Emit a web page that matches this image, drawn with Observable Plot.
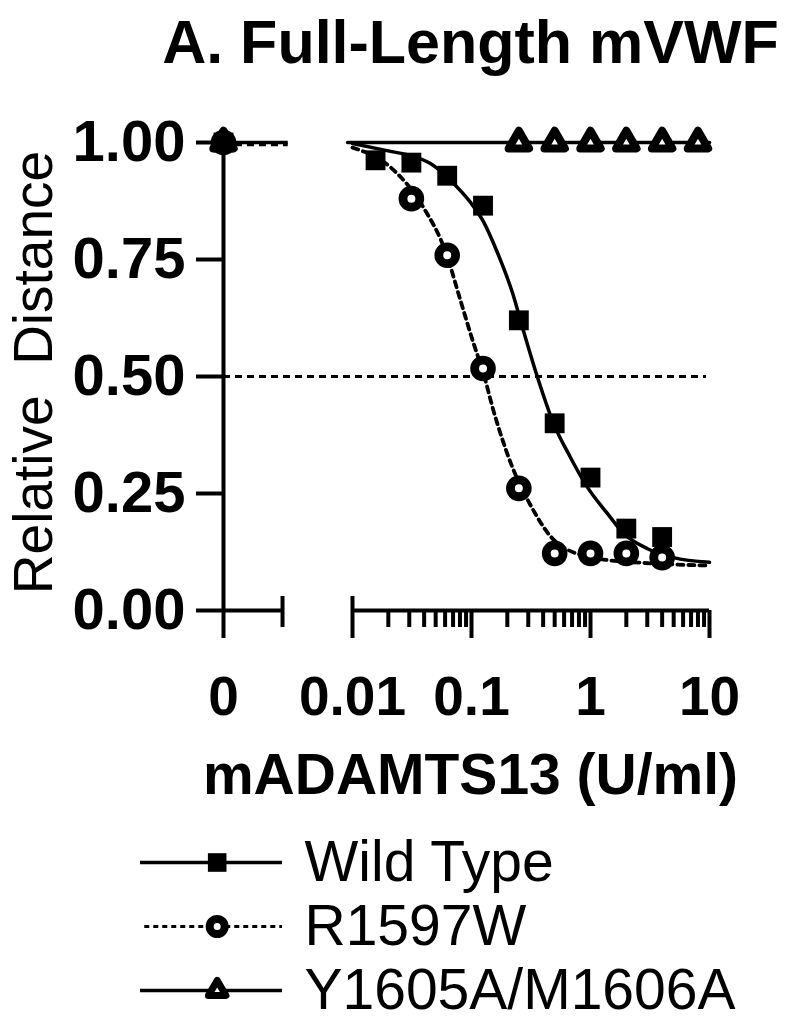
<!DOCTYPE html>
<html>
<head>
<meta charset="utf-8">
<script src="https://cdn.jsdelivr.net/npm/d3@7"></script>
<script src="https://cdn.jsdelivr.net/npm/@observablehq/plot@0.6"></script>
<style>
  html, body { margin: 0; padding: 0; background: #fff; }
  #chart svg { display: block; }
</style>
</head>
<body>
<div id="chart"></div>
<script>
// ---------- data ----------
const titleText = "A. Full-Length mVWF";
const xTitle = "mADAMTS13 (U/ml)";
const yTitle = "Relative  Distance";

const seriesNames = ["Wild Type", "R1597W", "Y1605A/M1606A"];

// measured points (concentration in U/ml, relative distance)
const wtConc = [0, 0.015625, 0.03125, 0.0625, 0.125, 0.25, 0.5, 1, 2, 4];
const wtValues = [1.0, 0.962, 0.957, 0.929, 0.865, 0.620, 0.400, 0.284, 0.175, 0.157];

const rwConc = [0, 0.03125, 0.0625, 0.125, 0.25, 0.5, 1, 2, 4];
const rwValues = [1.0, 0.880, 0.759, 0.517, 0.261, 0.122, 0.122, 0.122, 0.113];

const ymConc = [0, 0.25, 0.5, 1, 2, 4, 8];
const ymValues = [1.0, 1.0, 1.0, 1.0, 1.0, 1.0, 1.0];

// fitted curves
const wtFitConc = [0.01, 0.0209, 0.0307, 0.0452, 0.0666, 0.0981, 0.126, 0.165, 0.221, 0.273, 0.359, 0.489, 0.679, 0.944, 1.39, 1.89, 3.01, 4.98, 10];
const wtFitValues = [0.998, 0.981, 0.972, 0.955, 0.919, 0.872, 0.831, 0.765, 0.679, 0.598, 0.498, 0.400, 0.327, 0.263, 0.207, 0.165, 0.132, 0.113, 0.103];

const rwFitConc = [0.01, 0.0209, 0.0395, 0.0605, 0.0809, 0.104, 0.124, 0.153, 0.213, 0.312, 0.527, 1.14, 3.66, 10];
const rwFitValues = [0.989, 0.947, 0.861, 0.767, 0.662, 0.571, 0.513, 0.427, 0.316, 0.226, 0.144, 0.111, 0.100, 0.096];

const ymFitConc = [0.0091, 10];
const ymFitValues = [1.0, 1.0];

// value of the fits on the "0" segment
const zeroFitValue = 1.0;
// 50% reference line
const halfLine = 0.5;

// axis ticks
const xTickValues = [0, 0.01, 0.1, 1, 10];
const xTickLabels = ["0", "0.01", "0.1", "1", "10"];
const minorMultipliers = [2, 3, 4, 5, 6, 7, 8, 9];
const minorDecades = [0.01, 0.1, 1];
const yTickValues = [0, 0.25, 0.5, 0.75, 1];

// ---------- layout constants (broken log axis) ----------
const ZERO_U = -3.084;        // position of "0" on the log10 axis
const ZERO_SEG_END = -2.588;  // end of the "0" segment
const ZERO_FIT_END = -2.54;
const LOG_START = -2, LOG_END = 1;
const HALF_END = 0.975;
const toU = c => c === 0 ? ZERO_U : Math.log10(c);

const zip = (cs, vs) => cs.map((c, i) => ({c, v: vs[i]}));
const wt = zip(wtConc, wtValues);
const rw = zip(rwConc, rwValues);
const ym = zip(ymConc, ymValues);
const wtFit = zip(wtFitConc, wtFitValues);
const rwFit = zip(rwFitConc, rwFitValues);
const ymFit = zip(ymFitConc, ymFitValues);

const majorU = xTickValues.map(toU);
const labelByU = new Map(majorU.map((u, i) => [u, xTickLabels[i]]));
const minorU = minorDecades.flatMap(d => minorMultipliers.map(m => Math.log10(m * d))).concat([ZERO_SEG_END]);

const FONT = "'Liberation Sans', Arial, Helvetica, sans-serif";

const main = Plot.plot({
  width: 786,
  height: 830,
  marginTop: 142,
  marginBottom: 220,
  marginLeft: 223,
  marginRight: 77,
  style: {fontFamily: FONT, background: "white", color: "black", overflow: "visible"},
  x: {domain: [ZERO_U, LOG_END], axis: null},
  y: {domain: [0, 1], axis: null},
  marks: [
    // x axis line segments
    Plot.ruleY([{x1: ZERO_U, x2: ZERO_SEG_END}, {x1: LOG_START, x2: LOG_END}], {y: () => 0, x1: "x1", x2: "x2", stroke: "black", strokeWidth: 4}),
    // y axis line
    Plot.ruleX([ZERO_U], {y1: 0, y2: 1, stroke: "black", strokeWidth: 4}),
    // segment end caps
    Plot.ruleX([ZERO_SEG_END, LOG_START], {y1: 0, y2: 0.03, stroke: "black", strokeWidth: 4}),
    Plot.axisX({ticks: majorU, tickFormat: d => labelByU.get(d), tickSize: 28, tickPadding: 37,
      fontSize: 55, fontWeight: "bold", strokeWidth: 4, label: null}),
    Plot.axisX({ticks: minorU, tickFormat: () => "", tickSize: 17, strokeWidth: 4, label: null}),
    Plot.axisY({ticks: yTickValues, tickFormat: d3.format(".2f"), tickSize: 27, tickPadding: 11,
      fontSize: 58, fontWeight: "bold", strokeWidth: 4, label: null}),
    // 50% line
    Plot.ruleY([halfLine], {x1: ZERO_U, x2: HALF_END, stroke: "black", strokeWidth: 3, strokeDasharray: "7,5"}),
    // fits on the zero segment
    Plot.ruleY([zeroFitValue], {x1: ZERO_U, x2: ZERO_FIT_END, stroke: "black", strokeWidth: 3.5}),
    Plot.ruleY([zeroFitValue], {x1: ZERO_U, x2: ZERO_FIT_END, dy: 2, stroke: "black", strokeWidth: 3.5, strokeDasharray: "7,5"}),
    // fitted curves
    Plot.line(ymFit, {x: d => toU(d.c), y: "v", stroke: "black", strokeWidth: 3.5}),
    Plot.line(rwFit, {x: d => toU(d.c), y: "v", curve: "monotone-x", stroke: "black", strokeWidth: 3.8, strokeDasharray: "6,5"}),
    Plot.line(wtFit, {x: d => toU(d.c), y: "v", curve: "monotone-x", stroke: "black", strokeWidth: 3.5}),
    // points
    Plot.dot(rw, {x: d => toU(d.c), y: "v", r: 8.4, fill: "white", stroke: "black", strokeWidth: 8.8}),
    Plot.dot(ym, {x: d => toU(d.c), y: "v", symbol: "triangle", r: 7.6, fill: "white", stroke: "black", strokeWidth: 8, strokeLinejoin: "round"}),
    Plot.dot(wt, {x: d => toU(d.c), y: "v", symbol: "square", r: 11.2, fill: "black", stroke: "none"}),
    // titles
    Plot.text([titleText], {frameAnchor: "top", text: d => d, dx: 4, dy: -80, lineAnchor: "bottom",
      fontSize: 61, fontWeight: "bold", fill: "black"}),
    Plot.text([xTitle], {frameAnchor: "bottom", text: d => d, dx: 4, dy: 183, lineAnchor: "bottom",
      fontSize: 57, fontWeight: "bold", fill: "black"}),
    Plot.text([yTitle], {frameAnchor: "left", text: d => d, dx: -172, dy: -4, rotate: -90, lineAnchor: "bottom",
      textAnchor: "middle", fontSize: 55, fill: "black"})
  ]
});

const legendSolid = [seriesNames[0], seriesNames[2]];
const legendDashed = [seriesNames[1]];

const legend = Plot.plot({
  width: 786,
  height: 190,
  margin: 0,
  style: {fontFamily: FONT, background: "white", color: "black", overflow: "visible"},
  x: {domain: [0, 1], range: [140, 282], axis: null},
  y: {type: "point", domain: seriesNames, range: [32, 160], padding: 0, axis: null},
  marks: [
    Plot.ruleY(legendSolid, {y: d => d, x1: () => 0, x2: () => 1, stroke: "black", strokeWidth: 3.5}),
    Plot.ruleY(legendDashed, {y: d => d, x1: () => 0.03, x2: () => 1, stroke: "black", strokeWidth: 3, strokeDasharray: "5,4"}),
    Plot.dot([seriesNames[0]], {x: () => 0.54, y: d => d, symbol: "square", r: 10.5, fill: "black"}),
    Plot.dot([seriesNames[1]], {x: () => 0.54, y: d => d, r: 7.5, fill: "white", stroke: "black", strokeWidth: 8}),
    Plot.dot([seriesNames[2]], {x: () => 0.54, y: d => d, symbol: "triangle", r: 6.5, fill: "white", stroke: "black", strokeWidth: 7, strokeLinejoin: "round"}),
    Plot.text(seriesNames, {x: () => 1, y: d => d, text: d => d, dx: 22, textAnchor: "start", lineAnchor: "middle",
      fontSize: 57, fill: "black"})
  ]
});

document.getElementById("chart").append(main, legend);
</script>
</body>
</html>
